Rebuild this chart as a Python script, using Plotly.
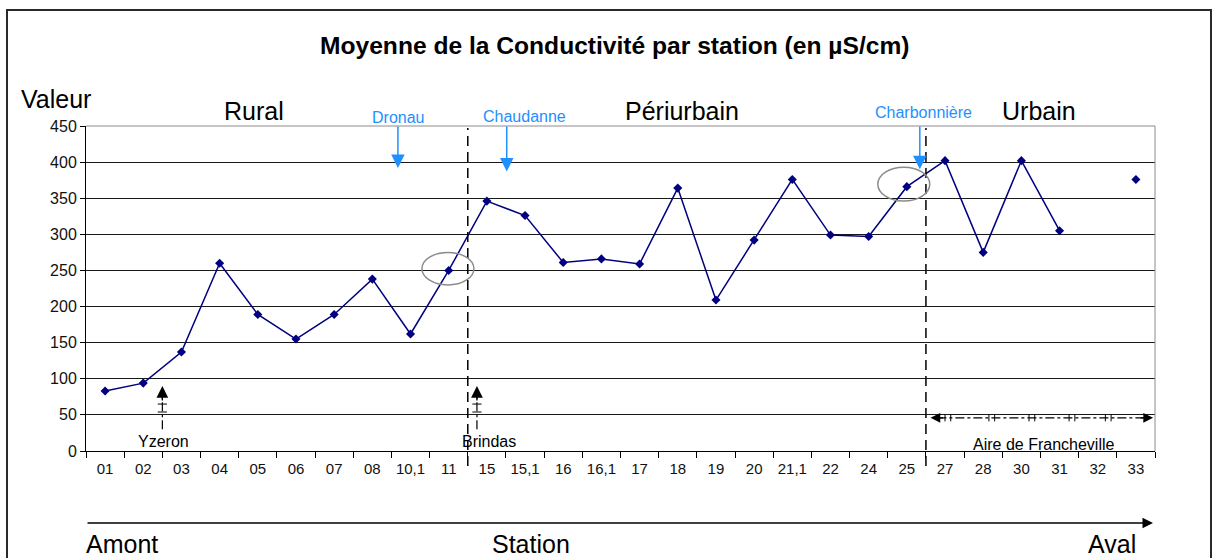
import plotly.graph_objects as go

# Stations from upstream (Amont) to downstream (Aval)
stations = ["01", "02", "03", "04", "05", "06", "07", "08", "10,1", "11",
            "15", "15,1", "16", "16,1", "17", "18", "19", "20", "21,1", "22",
            "24", "25", "27", "28", "30", "31", "32", "33"]
# Mean conductivity (µS/cm); station 32 has no value
conductivity = [83, 94, 137, 260, 189, 155, 189, 238, 162, 250,
                346, 326, 261, 266, 259, 364, 209, 292, 376, 299,
                297, 366, 402, 275, 402, 305, None, 376]

zones = ["Rural", "Périurbain", "Urbain"]
tributaries = ["Dronau", "Chaudanne", "Charbonnière"]

FONT = "Liberation Sans, Arial, sans-serif"
NAVY = "#000080"
BLUE = "#1E90FF"

L, R, T, B = 86, 57, 126, 107
W, H = 1212, 558
PW, PH = W - L - R, H - T - B


def px_x(p):
    """pixel column -> paper x"""
    return (p - L) / PW


def px_y(p):
    """pixel row -> paper y"""
    return (H - B - p) / PH


def label(x, y, text, size, color="black", xref="paper", yref="paper"):
    return dict(x=x, y=y, xref=xref, yref=yref, text=text, showarrow=False,
                xanchor="center", yanchor="middle",
                font=dict(family=FONT, size=size, color=color))


fig = go.Figure()
fig.add_trace(go.Scatter(
    x=stations, y=conductivity, mode="lines+markers",
    line=dict(color=NAVY, width=1.5),
    marker=dict(symbol="diamond", size=7, color=NAVY),
    connectgaps=False, hoverinfo="x+y", showlegend=False,
))

shapes = []
annotations = []

# outer frame
shapes.append(dict(type="rect", xref="paper", yref="paper",
                   x0=px_x(7), x1=px_x(1211), y0=px_y(575), y1=px_y(10),
                   line=dict(color="#2a2a2a", width=2), layer="below"))
# gray top / right border of the plot area
shapes.append(dict(type="line", xref="paper", yref="paper", x0=0, x1=1, y0=1, y1=1,
                   line=dict(color="#8c8c8c", width=1)))
shapes.append(dict(type="line", xref="paper", yref="paper", x0=1, x1=1, y0=0, y1=1,
                   line=dict(color="#8c8c8c", width=1)))

# zone separators
for xb in (9.5, 21.5):
    shapes.append(dict(type="line", xref="x", yref="paper", x0=xb, x1=xb,
                       y0=px_y(466), y1=px_y(128),
                       line=dict(color="black", width=1.5, dash="10px,6px")))

# circled stations
shapes.append(dict(type="circle", xref="x", yref="y", x0=8.30, x1=9.66, y0=230, y1=275,
                   line=dict(color="#8c8c8c", width=1.5)))
shapes.append(dict(type="circle", xref="x", yref="y", x0=20.24, x1=21.60, y0=346, y1=393,
                   line=dict(color="#8c8c8c", width=1.5)))

# Yzeron / Brindas inflow arrows (dash-dot shaft with cross-bars)
for xa, name, xt in ((1.5, "Yzeron", 1.52), (9.74, "Brindas", 10.05)):
    shapes.append(dict(type="line", xref="x", yref="y", x0=xa, x1=xa, y0=30, y1=78,
                       line=dict(color="black", width=1.2, dash="dashdot")))
    for yc in (65, 54):
        shapes.append(dict(type="line", xref="x", yref="y", x0=xa - 0.12, x1=xa + 0.12,
                           y0=yc, y1=yc, line=dict(color="black", width=1)))
    annotations.append(dict(x=xa, y=90, xref="x", yref="y", ax=0, ay=16, text="",
                            showarrow=True, arrowhead=2, arrowsize=1.8, arrowwidth=1.3,
                            arrowcolor="black"))
    annotations.append(label(xt, 13, name, 16, xref="x", yref="y"))

# Aire de Francheville double arrow
shapes.append(dict(type="line", xref="x", yref="y", x0=21.8, x1=27.2, y0=46, y1=46,
                   line=dict(color="black", width=1.2, dash="dashdot")))
for xc in (22.0, 22.15, 23.15, 23.3, 24.2, 24.35, 25.25, 25.4, 26.2, 26.35):
    shapes.append(dict(type="line", xref="x", yref="y", x0=xc, x1=xc, y0=41, y1=51,
                       line=dict(color="black", width=1)))
annotations.append(dict(x=21.62, y=46, xref="x", yref="y", ax=14, ay=0, text="",
                        showarrow=True, arrowhead=2, arrowsize=1.5, arrowwidth=1.3,
                        arrowcolor="black"))
annotations.append(dict(x=27.45, y=46, xref="x", yref="y", ax=-14, ay=0, text="",
                        showarrow=True, arrowhead=2, arrowsize=1.5, arrowwidth=1.3,
                        arrowcolor="black"))
annotations.append(label(24.6, 9, "Aire de Francheville", 16, xref="x", yref="y"))

# tributary arrows (blue)
for name, xa, xt, ty, tip in zip(tributaries, (7.67, 10.52, 21.34), (7.68, 10.99, 21.44),
                                 (117, 116, 113), (392, 387, 390)):
    annotations.append(dict(x=xa, y=tip, xref="x", yref="y", ax=0,
                            ay=-(PH * (450 - tip) / 450 + 1),
                            text="", showarrow=True, arrowhead=2, arrowsize=1.8,
                            arrowwidth=1.5, arrowcolor=BLUE))
    annotations.append(label(xt, px_y(ty), name, 16, color=BLUE, xref="x"))

# zone names
for name, xz in zip(zones, (3.9, 15.1, 24.45)):
    annotations.append(label(xz, px_y(111), name, 25, xref="x"))

# title and axis captions
annotations.append(label(px_x(614), px_y(45),
                         "<b>Moyenne de la Conductivité par station (en µS/cm)</b>", 24.6))
annotations.append(label(px_x(56), px_y(99), "Valeur", 25))

# Amont -> Aval direction arrow
annotations.append(dict(x=px_x(1153), y=px_y(523), xref="paper", yref="paper",
                        ax=-(1153 - 86), ay=0, text="", showarrow=True, arrowhead=2,
                        arrowsize=1.4, arrowwidth=1.5, arrowcolor="black"))
for name, xc, yc in (("Amont", 122, 544), ("Station", 531, 544), ("Aval", 1112, 544)):
    annotations.append(label(px_x(xc), px_y(yc), name, 25))

fig.update_layout(
    width=W, height=H,
    margin=dict(l=L, r=R, t=T, b=B, pad=0),
    paper_bgcolor="white", plot_bgcolor="white",
    font=dict(family=FONT, color="black"),
    shapes=shapes, annotations=annotations,
    xaxis=dict(type="category", categoryorder="array", categoryarray=stations,
               range=[-0.5, len(stations) - 0.5], tickson="boundaries",
               ticks="outside", ticklen=6, tickcolor="black", tickwidth=1,
               showline=True, linecolor="black", linewidth=1, showgrid=False,
               tickangle=0, ticklabelstandoff=4,
               tickfont=dict(family=FONT, size=15, color="#111"), fixedrange=True),
    yaxis=dict(range=[0, 450], dtick=50, ticks="outside", ticklen=5, tickcolor="black",
               showline=True, linecolor="black", linewidth=1, showgrid=True,
               gridcolor="#1a1a1a", gridwidth=1, zeroline=False,
               tickfont=dict(family=FONT, size=16, color="#111"), fixedrange=True),
)

fig.write_html("out.html")
